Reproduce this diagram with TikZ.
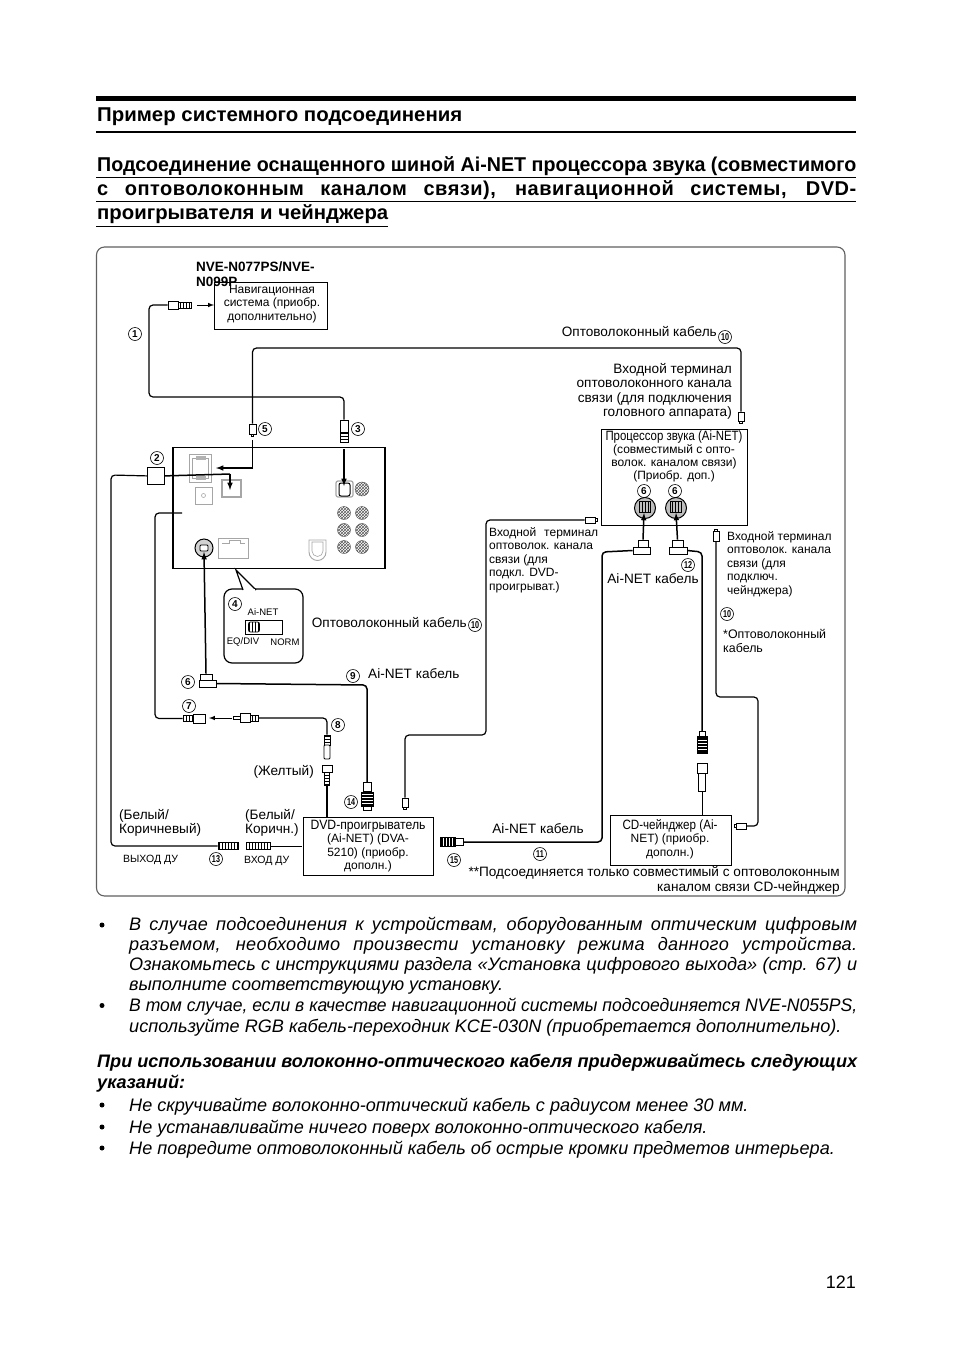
\documentclass[tikz,border=0pt]{standalone}
\usepackage{fontspec}
\setmainfont{Liberation Sans}
\usepackage{graphicx}
\usetikzlibrary{patterns}
\newcommand{\fz}[1]{\fontsize{#1}{#1}\selectfont}
\newcommand{\lblfont}{\fontsize{13.6}{14.3}\selectfont}
\newcommand{\smlfont}{\fontsize{12}{13.5}\selectfont}
\newcommand{\bodyfont}{\fontsize{18.1}{21}\selectfont\itshape}
\newcommand{\stretchline}[2]{\makebox[#1pt][s]{#2}}
\newcommand{\fitline}[2]{\resizebox{#1pt}{\height}{#2}}
\newcommand{\nrw}[1]{\scalebox{0.72}[1]{#1}}
\begin{document}
\begin{tikzpicture}
[
x=1pt, y=-1pt,
lbl/.style={inner sep=0pt, font=\lblfont, align=left},
lblsm/.style={inner sep=0pt, font=\smlfont, align=left},
bodyline/.style={inner sep=0pt, anchor=base west, font=\bodyfont},
unitbox/.style={rectangle, draw=black, line width=0.8pt, anchor=north west, inner sep=0pt},
numc/.style={circle, draw=black, line width=0.6pt, inner sep=0pt, minimum size=13pt, font=\bfseries\fz{10}},
plugw/.style={rectangle, draw=black, fill=white, line width=0.8pt, inner sep=0pt},
plugv/.style={rectangle, draw=black, pattern=vertical lines, line width=0.8pt, inner sep=0pt},
plugh/.style={rectangle, draw=black, pattern=horizontal lines, line width=0.8pt, inner sep=0pt},
plugbh/.style={rectangle, draw=black, fill=black, inner sep=0pt, path picture={
  \foreach \sy in {-4,-1,2,5} \draw[white, line width=0.5pt] ([yshift=\sy pt]path picture bounding box.west) -- ++(20,0);}},
plugbv/.style={rectangle, draw=black, fill=black, inner sep=0pt, path picture={
  \foreach \sx in {3,6,9,12} \draw[white, line width=0.5pt] ([xshift=\sx pt]path picture bounding box.south west) -- ++(0,-20);}},
nub/.style={rectangle, draw=black, fill=white, line width=0.6pt, inner sep=0pt},
cable/.style={draw=black, line width=1.2pt, rounded corners=4pt},
wire/.style={draw=black, line width=0.8pt},
feed/.style={draw=black, line width=1.5pt, -latex},
part/.style={draw=gray!70, line width=0.9pt, fill=white},
]
\useasboundingbox (0,0) rectangle (954,1352);

% page headings
\fill (96,96) rectangle (856,101);
\fill (96,131) rectangle (856,133.2);
\node at (97,121) [inner sep=0pt, anchor=base west, font=\bfseries\fz{20}] (titleone) {\fitline{365}{Пример системного подсоединения}};
\node at (97,171) [inner sep=0pt, anchor=base west, font=\bfseries\fz{20}] (titletwo) {\fitline{759}{Подсоединение оснащенного шиной Ai-NET процессора звука (совместимого}};
\node at (97,195) [inner sep=0pt, anchor=base west, font=\bfseries\fz{20}] (titlethree) {\stretchline{759}{\addfontfeature{LetterSpace=2.5}с оптоволоконным каналом связи), навигационной системы, DVD-}};
\node at (97,219) [inner sep=0pt, anchor=base west, font=\bfseries\fz{20}] (titlefour) {\fitline{291}{проигрывателя и чейнджера}};
\draw[line width=0.8pt] (96,177.5) -- (856,177.5);
\draw[line width=0.8pt] (96,201.5) -- (856,201.5);
\draw[line width=0.8pt] (96,226) -- (388,226);

% frame
\draw[gray!75!black, line width=1.1pt, rounded corners=8pt] (96.5,247) rectangle (845,896);

% boxes
\node at (214,282) [unitbox, minimum width=113pt, minimum height=47pt] (navbox) {};
\node at (172.3,446.5) [unitbox, line width=1.5pt, minimum width=212pt, minimum height=121pt] (headunit) {};
\node at (601,429) [unitbox, minimum width=146pt, minimum height=96pt] (procbox) {};
\node at (303,817) [unitbox, minimum width=130pt, minimum height=58pt] (dvdbox) {};
\node at (610,815) [unitbox, minimum width=121pt, minimum height=50pt] (cdbox) {};
\node at (147,467) [unitbox, minimum width=17pt, minimum height=17pt] (boxtwo) {};

\node at (196,262) [inner sep=0pt, anchor=north west, align=left, font=\bfseries\fontsize{13.5}{14.5}\selectfont] (navname) {NVE-N077PS/NVE-\\N099P};
\node at (272,304) [lblsm, align=center] (navtext) {Навигационная\\система (приобр.\\дополнительно)};
\node at (674,456) [inner sep=0pt, align=center, font=\fontsize{12}{12.9}\selectfont] (proctext) {\fitline{137}{\fz{13.5}Процессор звука (Ai-NET)}\\(совместимый с опто-\\волок. каналом связи)\\(Приобр. доп.)};
\node at (368,846) [lblsm, align=center] (dvdtext) {\fitline{115}{\fz{13.5}DVD-проигрыватель}\\(Ai-NET) (DVA-\\5210) (приобр.\\дополн.)};
\node at (670,839) [lblsm, align=center] (cdtext) {\fitline{95}{\fz{13.5}CD-чейнджер (Ai-}\\NET) (приобр.\\дополн.)};

% head unit sockets
\draw[part] (189,454) rectangle (211,482);
\draw[part] (192,458) rectangle (208,478);
\fill[gray!60] (196,456) rectangle (206,460);
\fill[gray!60] (196,476) rectangle (206,480);
\draw[part] (195,487) rectangle (212,504);
\draw[gray!70, line width=0.6pt] (203.5,495.5) circle (2pt);
\draw[part, line width=1.2pt] (222,480) rectangle (241,497);
\draw[part, line width=1.2pt, rounded corners=2pt] (336,481) rectangle (353,497);
\draw[black, fill=white, line width=1pt, rounded corners=2pt] (339,483) rectangle (350,496);
\node at (204,548) [circle, draw=black, line width=1pt, fill=gray!35, minimum size=18pt, inner sep=0pt] (avsocket) {};
\draw[black, fill=white, line width=0.8pt, rounded corners=1pt] (200,545) rectangle (208,551);
\draw[part] (218,538) rectangle (248,558);
\draw[part] (222,543) -- (229,543) -- (229,540) -- (240,540) -- (240,543) -- (245,543);
\draw[part] (309,540) -- (326,540) -- (326,552) arc (0:-180:8.5pt) -- cycle;
\draw[part, line width=0.6pt] (312,542) -- (323,542) -- (323,551) arc (0:-180:5.5pt) -- cycle;
\foreach \px in {344,362}
  \foreach \py in {513,530,547}
    \draw[gray!60!black, pattern=crosshatch, pattern color=gray!70!black] (\px,\py) circle (6.5pt);
\draw[gray!60!black, pattern=crosshatch, pattern color=gray!70!black] (362,489) circle (7pt);

% plugs
\node at (173,305) [plugw, minimum width=10pt, minimum height=8pt] (navbody) {};
\node at (184.5,305) [plugv, minimum width=13pt, minimum height=6pt] (navplug) {};
\node at (252.5,429) [plugw, minimum width=7pt, minimum height=10pt] (fibfive) {};
\node at (252.5,435) [nub, minimum width=2.5pt, minimum height=2pt] (fibfivetip) {};
\node at (344,426) [plugw, minimum width=8pt, minimum height=12pt] (plugthree) {};
\node at (344,437) [plugh, minimum width=8pt, minimum height=10pt] (plugthreetip) {};
\node at (206,677) [plugw, minimum width=12pt, minimum height=6pt] (elbowtop) {};
\node at (207.5,683.5) [plugw, minimum width=17pt, minimum height=7pt] (elbowsix) {};
\node at (188,718.5) [plugv, minimum width=10pt, minimum height=6pt] (plugseven) {};
\node at (199,718.5) [plugw, minimum width=12pt, minimum height=9pt] (plugsevenb) {};
\node at (236.5,718) [plugw, minimum width=7pt, minimum height=3pt] (plugeighttip) {};
\node at (245,718) [plugw, minimum width=10pt, minimum height=9pt] (plugeightb) {};
\node at (254,718) [plugv, minimum width=8pt, minimum height=6pt] (plugeight) {};
\node at (327,740) [plugh, minimum width=6pt, minimum height=10pt] (yellowtop) {};
\node at (327,752) [plugw, minimum width=6pt, minimum height=14pt, rounded corners=1pt] (yellowplug) {};
\node at (327,768.5) [plugw, minimum width=10pt, minimum height=7pt] (sockbody) {};
\node at (327,778.5) [plugh, minimum width=5pt, minimum height=13pt] (socktail) {};
\node at (367,787) [plugw, minimum width=8pt, minimum height=9pt] (fourteentop) {};
\node at (367,799) [plugbh, minimum width=12pt, minimum height=14pt] (fourteenbody) {};
\node at (367,808) [plugw, minimum width=8pt, minimum height=4pt] (fourteentip) {};
\node at (405,802.5) [plugw, minimum width=6pt, minimum height=9pt] (fibdvd) {};
\node at (405,808) [nub, minimum width=2.5pt, minimum height=2pt] (fibdvdtip) {};
\node at (447.5,842) [plugbv, minimum width=15pt, minimum height=9pt] (plugfifteen) {};
\node at (459,842) [plugw, minimum width=8pt, minimum height=7pt] (plugfifteencap) {};
\node at (590,520) [plugw, minimum width=10pt, minimum height=6pt] (fibproc) {};
\node at (596,520) [nub, minimum width=2pt, minimum height=2.5pt] (fibproctip) {};
\node at (741,416.5) [plugw, minimum width=6pt, minimum height=9pt] (fibtop) {};
\node at (741,422) [nub, minimum width=2.5pt, minimum height=2pt] (fibtoptip) {};
\node at (643,543.5) [plugw, minimum width=10pt, minimum height=7pt] (elbowltop) {};
\node at (641.5,550.5) [plugw, minimum width=17pt, minimum height=7pt] (elbowl) {};
\node at (677.5,543.5) [plugw, minimum width=11pt, minimum height=7pt] (elbowrtop) {};
\node at (678,550.5) [plugw, minimum width=18pt, minimum height=7pt] (elbowr) {};
\node at (645,508) [circle, draw=black, line width=1pt, fill=gray!50, minimum size=21pt, inner sep=0pt] (inleft) {};
\node at (676,508) [circle, draw=black, line width=1pt, fill=gray!50, minimum size=21pt, inner sep=0pt] (inright) {};
\node at (645,507) [plugv, minimum width=11pt, minimum height=11pt] (inleftb) {};
\node at (676,507) [plugv, minimum width=11pt, minimum height=11pt] (inrightb) {};
\node at (716,536) [plugw, minimum width=6pt, minimum height=10pt] (fibcd) {};
\node at (716,530) [nub, minimum width=2.5pt, minimum height=2pt] (fibcdtop) {};
\node at (741,826) [plugw, minimum width=10pt, minimum height=6pt] (fibcdtip) {};
\node at (735,826) [nub, minimum width=2pt, minimum height=2.5pt] (fibcdnub) {};
\node at (702,745) [plugbh, minimum width=10pt, minimum height=17pt] (cdplug) {};
\node at (702,734) [plugw, minimum width=6pt, minimum height=5pt] (cdplugtop) {};
\node at (702,768) [plugw, minimum width=10pt, minimum height=10pt] (cdsock) {};
\node at (702,782) [plugw, minimum width=7pt, minimum height=18pt] (cdsocktail) {};
\node at (228,846) [plugv, minimum width=20pt, minimum height=7pt] (remoteout) {};
\node at (258,846) [plugv, minimum width=24pt, minimum height=7pt] (remotein) {};

% cables
\draw[cable] (navbody.west) -- (149,305) -- (149,397) -- (344,397) -- (plugthree.north);
\draw[cable] (fibfive.north) -- (252.5,348) -- (741,348) -- (fibtop.north);
\draw[cable] (boxtwo.west) -- (111,475) -- (111,846) -- (remoteout.west);
\draw[cable] (182,513) -- (155,513) -- (155,718.5) -- (plugseven.west);
\draw[cable] (plugeight.east) -- (327,718) -- (yellowtop.north);
\draw[cable, line width=1.5pt] (elbowsix.east) -- (367,685) -- (fourteentop.north);
\draw[cable] (fibdvd.north) -- (405,735) -- (486,735) -- (486,520) -- (fibproc.west);
\draw[cable, line width=1.5pt] (plugfifteencap.east) -- (602,842) -- (602,552) -- (elbowl.west);
\draw[cable, line width=1.5pt] (elbowr.east) -- (702,552) -- (cdplugtop.north);
\draw[cable] (fibcd.south) -- (716,697) -- (758,697) -- (758,826) -- (fibcdtip.east);
\draw[line width=1.5pt] (socktail.south) -- (327,817);
\draw[wire] (cdsocktail.south) -- (702,815);
\draw[wire] (remotein.east) -- (302,846);

% arrows
\draw[draw=black, line width=1pt, -latex] (197,305) -- (214,305);
\draw[feed] (344,449) -- (344,486);
\draw[line width=1.5pt] (252.5,440) -- (252.5,468);
\draw[feed] (253,468) -- (216,468);
\draw[line width=1.5pt] (boxtwo.east) -- (230,474);
\draw[feed] (230,474) -- (230,490);
\draw[feed] (elbowtop.north) -- (204,552);
\draw[draw=black, line width=1pt, -latex] (232,718) -- (209,718);
\draw[feed] (elbowltop.north) -- (644,513);
\draw[feed] (elbowrtop.north) -- (676,513);

% callout
\draw[black, line width=1.2pt, fill=white, rounded corners=8pt] (224,589) rectangle (303,663);
\draw[black, line width=1.2pt, fill=white] (243,590) -- (236,570) -- (256,590);
\draw[white, line width=1.6pt] (244,590) -- (255,590);
\node at (235,604) [numc] (numfour) {4};
\node at (263,612) [inner sep=0pt, font=\fz{9.5}] (swname) {Ai-NET};
\draw[line width=0.8pt] (245,620) rectangle (282,634);
\node at (254,627) [plugv, minimum width=11pt, minimum height=10pt, rounded corners=2pt] (swknob) {};
\node at (243,642) [inner sep=0pt, font=\fz{9.5}] (swleft) {EQ/DIV};
\node at (285,642) [inner sep=0pt, font=\fz{9.5}] (swright) {NORM};

% numbers
\node at (135,334) [numc] (numone) {1};
\node at (157,458) [numc] (numtwo) {2};
\node at (358,429) [numc] (numthree) {3};
\node at (265,429) [numc] (numfive) {5};
\node at (188,682) [numc] (numsix) {6};
\node at (644,491) [numc] (numsixl) {6};
\node at (675,491) [numc] (numsixr) {6};
\node at (189,706) [numc] (numseven) {7};
\node at (338,725) [numc] (numeight) {8};
\node at (353,676) [numc] (numnine) {9};
\node at (725,337) [numc] (numtena) {\nrw{10}};
\node at (475,625) [numc] (numtenb) {\nrw{10}};
\node at (727,614) [numc] (numtenc) {\nrw{10}};
\node at (540,854) [numc] (numeleven) {\nrw{11}};
\node at (688,565) [numc] (numtwelve) {\nrw{12}};
\node at (216,859) [numc] (numthirteen) {\nrw{13}};
\node at (351,802) [numc] (numfourteen) {\nrw{14}};
\node at (454,860) [numc] (numfifteen) {\nrw{15}};

% labels
\node at (717,336) [lbl, anchor=base east] (fibtext) {Оптоволоконный кабель};
\node at (732,391.5) [lbl, anchor=east, align=right] (fibtoptext) {Входной терминал\\оптоволоконного канала\\связи (для подключения\\головного аппарата)};
\node at (467,627) [lbl, anchor=base east] (fibmidtext) {Оптоволоконный кабель};
\node at (368,678) [lbl, anchor=base west] (ainettext) {Ai-NET кабель};
\node at (489,560) [lblsm, anchor=west] (dvdport) {\stretchline{109}{Входной терминал}\\оптоволок. канала\\связи (для\\подкл. DVD-\\проигрыват.)};
\node at (727,564) [lblsm, anchor=west] (cdport) {Входной терминал\\оптоволок. канала\\связи (для\\подключ.\\чейнджера)};
\node at (653,583) [lbl, anchor=base] (ainetright) {Ai-NET кабель};
\node at (723,641) [inner sep=0pt, anchor=west, align=left, font=\fontsize{12.4}{13.5}\selectfont] (fibstar) {*Оптоволоконный\\кабель};
\node at (314,775.5) [lbl, anchor=base east] (yellowtext) {(Желтый)};
\node at (119,823) [lbl, anchor=west] (whitebrowna) {(Белый/\\Коричневый)};
\node at (245,823) [lbl, anchor=west] (whitebrownb) {(Белый/\\Коричн.)};
\node at (123,862) [inner sep=0pt, anchor=base west, font=\fz{10.5}] (remoteouttext) {ВЫХОД ДУ};
\node at (244,863) [inner sep=0pt, anchor=base west, font=\fz{10.5}] (remoteintext) {ВХОД ДУ};
\node at (538,833) [lbl, anchor=base] (ainetbottom) {Ai-NET кабель};
\node at (840,880.5) [lbl, anchor=east, align=right] (footnote) {**Подсоединяется только совместимый с оптоволоконным\\каналом связи CD-чейнджер};

% body text
\foreach \by in {925,1005.5,1105,1127,1148}
  \fill (102,\by) circle (2.5pt);
\node at (129,930) [bodyline] (lineone) {\stretchline{728}{\addfontfeature{LetterSpace=1}В случае подсоединения к устройствам, оборудованным оптическим цифровым}};
\node at (129,950) [bodyline] (linetwo) {\stretchline{728}{\addfontfeature{LetterSpace=2}разъемом, необходимо произвести установку режима данного устройства.}};
\node at (129,970) [bodyline] (linethree) {\stretchline{728}{Ознакомьтесь с инструкциями раздела «Установка цифрового выхода» (стр. 67) и}};
\node at (129,990) [bodyline] (linefour) {выполните соответствующую установку.};
\node at (129,1011) [bodyline] (linefive) {\fitline{728}{В том случае, если в качестве навигационной системы подсоединяется NVE-N055PS,}};
\node at (129,1032) [bodyline] (linesix) {используйте RGB кабель-переходник KCE-030N (приобретается дополнительно).};
\node at (97,1067) [bodyline, font=\bfseries\bodyfont] (linehead) {\stretchline{760}{При использовании волоконно-оптического кабеля придерживайтесь следующих}};
\node at (97,1088) [bodyline, font=\bfseries\bodyfont] (lineheadb) {указаний:};
\node at (129,1111) [bodyline] (lineseven) {Не скручивайте волоконно-оптический кабель с радиусом менее 30 мм.};
\node at (129,1133) [bodyline] (lineeight) {Не устанавливайте ничего поверх волоконно-оптического кабеля.};
\node at (129,1154) [bodyline] (linenine) {Не повредите оптоволоконный кабель об острые кромки предметов интерьера.};
\node at (856,1288) [inner sep=0pt, anchor=base east, font=\fz{18}] (pageno) {121};
\end{tikzpicture}
\end{document}
